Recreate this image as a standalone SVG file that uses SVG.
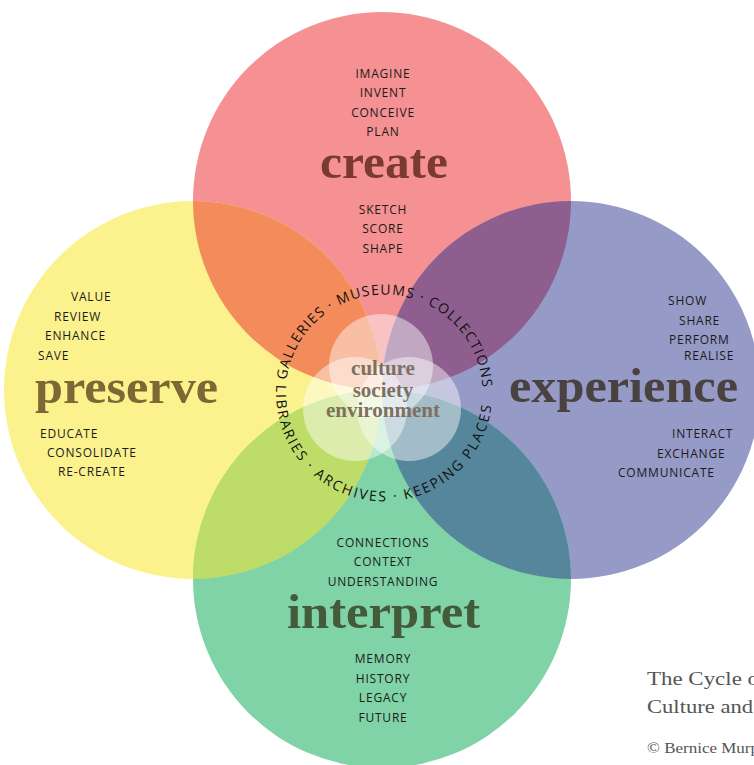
<svg xmlns="http://www.w3.org/2000/svg" xmlns:xlink="http://www.w3.org/1999/xlink" width="754" height="765" viewBox="0 0 754 765">
<style>
.w{font-family:"Open Sans","Noto Sans",sans-serif;font-size:12px;font-weight:500;letter-spacing:0.8px;fill:#1c1a1b}
.c{text-anchor:middle}
.big{font-family:"Liberation Serif",serif;font-weight:bold;font-size:48px}
.ring{font-family:"Open Sans","Noto Sans",sans-serif;font-size:14px;font-weight:500;fill:#111}
.mid{font-family:"Liberation Serif",serif;font-weight:bold;font-size:21px;fill:#7d705f;text-anchor:middle}
.cap{font-family:"Liberation Serif",serif;font-size:19px;fill:#555}
.cap2{font-family:"Liberation Serif",serif;font-size:14px;fill:#555}
.sc{fill:#fff;fill-opacity:0.45}
</style>
<defs>
<clipPath id="clipCreate"><circle cx="382" cy="201" r="189"/></clipPath>
<clipPath id="clipInterpret"><circle cx="382" cy="579" r="189"/></clipPath>
<path id="arcTop" d="M 285.5 393 A 98.5 98.5 0 0 1 482.5 393" fill="none"/>
<path id="arcBot" d="M 276.5 383 A 108 108 0 1 0 491.5 383" fill="none"/>
</defs>
<rect width="754" height="765" fill="#fff"/>
<g id="circles">
<circle cx="382" cy="201" r="189" fill="#f59192"/>
<circle cx="193" cy="390" r="189" fill="#fbf28e"/>
<circle cx="571" cy="390" r="189" fill="#969ac7"/>
<circle cx="382" cy="579" r="189" fill="#7fd3a7"/>
<g clip-path="url(#clipCreate)">
<circle cx="193" cy="390" r="189" fill="#f38b5b"/>
<circle cx="571" cy="390" r="189" fill="#8e5f8e"/>
</g>
<g clip-path="url(#clipInterpret)">
<circle cx="193" cy="390" r="189" fill="#bedd68"/>
<circle cx="571" cy="390" r="189" fill="#56869c"/>
</g>
</g>
<g id="connectors"></g>
<g id="create">
<text class="w c" x="383" y="78">IMAGINE</text>
<text class="w c" x="383" y="97">INVENT</text>
<text class="w c" x="383" y="117">CONCEIVE</text>
<text class="w c" x="383" y="136">PLAN</text>
<text class="big" x="320" y="178" fill="#7a3a30" textLength="128" lengthAdjust="spacingAndGlyphs">create</text>
<text class="w c" x="383" y="214">SKETCH</text>
<text class="w c" x="383" y="233">SCORE</text>
<text class="w c" x="383" y="253">SHAPE</text>
</g>
<g id="preserve">
<text class="w" x="71" y="301">VALUE</text>
<text class="w" x="54" y="321">REVIEW</text>
<text class="w" x="45" y="340">ENHANCE</text>
<text class="w" x="38" y="360">SAVE</text>
<text class="big" x="35" y="403" fill="#7b6834" textLength="183" lengthAdjust="spacingAndGlyphs">preserve</text>
<text class="w" x="40" y="438">EDUCATE</text>
<text class="w" x="47" y="457">CONSOLIDATE</text>
<text class="w" x="58" y="476">RE-CREATE</text>
</g>
<g id="experience">
<text class="w" x="668" y="305">SHOW</text>
<text class="w" x="679" y="325">SHARE</text>
<text class="w" x="669" y="344">PERFORM</text>
<text class="w" x="684" y="360">REALISE</text>
<text class="big" x="509" y="402" fill="#4a4240" textLength="229" lengthAdjust="spacingAndGlyphs">experience</text>
<text class="w" x="672" y="438">INTERACT</text>
<text class="w" x="657" y="458">EXCHANGE</text>
<text class="w" x="618" y="477">COMMUNICATE</text>
</g>
<g id="interpret">
<text class="w c" x="383" y="547">CONNECTIONS</text>
<text class="w c" x="383" y="566">CONTEXT</text>
<text class="w c" x="383" y="586">UNDERSTANDING</text>
<text class="big" x="287" y="628" fill="#445b3b" textLength="193" lengthAdjust="spacingAndGlyphs">interpret</text>
<text class="w c" x="383" y="663">MEMORY</text>
<text class="w c" x="383" y="683">HISTORY</text>
<text class="w c" x="383" y="702">LEGACY</text>
<text class="w c" x="383" y="722">FUTURE</text>
</g>
<g id="center">
<circle class="sc" cx="381" cy="366" r="52"/>
<circle class="sc" cx="355" cy="409" r="52"/>
<circle class="sc" cx="409" cy="409" r="52"/>
<text class="mid" x="383" y="375">culture</text>
<text class="mid" x="383" y="397">society</text>
<text class="mid" x="383" y="417">environment</text>
</g>
<g id="ring">
<text class="ring"><textPath xlink:href="#arcTop" startOffset="13" textLength="290" lengthAdjust="spacing">GALLERIES · MUSEUMS · COLLECTIONS</textPath></text>
<text class="ring"><textPath xlink:href="#arcBot" startOffset="2" textLength="335" lengthAdjust="spacing">LIBRARIES · ARCHIVES · KEEPING PLACES</textPath></text>
</g>
<g id="caption">
<text class="cap" x="647" y="685" textLength="112" lengthAdjust="spacingAndGlyphs">The Cycle o</text>
<text class="cap" x="647" y="713" textLength="106" lengthAdjust="spacingAndGlyphs">Culture and</text>
<text class="cap2" x="647" y="753" textLength="112" lengthAdjust="spacingAndGlyphs">© Bernice Murp</text>
</g>
</svg>
